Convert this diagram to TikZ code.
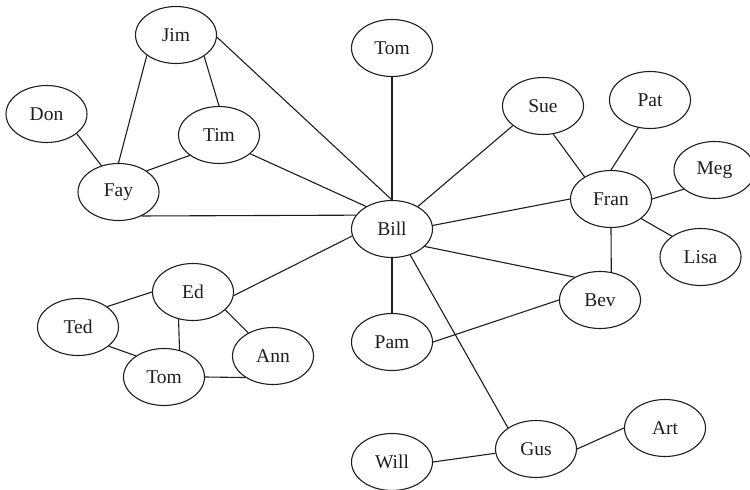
\documentclass[tikz,border=0pt]{standalone}
\usepackage{fontspec}
\setmainfont{Liberation Serif}
\usetikzlibrary{shapes.geometric}
\definecolor{ink}{RGB}{30,30,30}
\tikzset{
  person/.style={ellipse, draw=ink, line width=1.1pt, minimum width=81pt,
    minimum height=57pt, inner sep=0pt, text=ink,
    font=\fontsize{19.5}{22}\selectfont},
  tie/.style={draw=ink, line width=1.1pt}
}
\begin{document}
\begin{tikzpicture}[x=1pt, y=-1pt]
  \useasboundingbox (0,0) rectangle (750,490);
  \fill[white] (0,0) rectangle (750,490);
  \clip (0,0) rectangle (750,490);

  % people
  \node[person] (jim)  at (176,35)    {Jim};
  \node[person] (tomA) at (392,48)    {Tom};
  \node[person] (don)  at (46.5,114)  {Don};
  \node[person] (tim)  at (219,135)   {Tim};
  \node[person] (sue)  at (543,106)   {Sue};
  \node[person] (pat)  at (650,100)   {Pat};
  \node[person] (meg)  at (714.5,170) {Meg};
  \node[person] (fay)  at (118.5,192) {Fay};
  \node[person] (fran) at (611,199)   {Fran};
  \node[person] (bill) at (392,229)   {Bill};
  \node[person] (lisa) at (700.5,257) {Lisa};
  \node[person] (ed)   at (193,292)   {Ed};
  \node[person] (bev)  at (600,300)   {Bev};
  \node[person] (ted)  at (78,327)    {Ted};
  \node[person] (ann)  at (273,356)   {Ann};
  \node[person] (pam)  at (392,342)   {Pam};
  \node[person] (tomB) at (164,377)   {Tom};
  \node[person] (art)  at (665,428)   {Art};
  \node[person] (gus)  at (536,449)   {Gus};
  \node[person] (will) at (392,462)   {Will};

  % acquaintances
  \draw[tie] (jim.215)  -- (fay.90);
  \draw[tie] (jim.-37)  -- (tim.90);
  \draw[tie] (jim.-3)   -- (bill.90);
  \draw[tie] (don.-33)  -- (fay.123);
  \draw[tie] (tim.215)  -- (fay.37);
  \draw[tie] (tim.-31)  -- (bill.139);
  \draw[tie] (fay.-46)  -- (bill.159);
  \draw[tie] (tomA.-90) -- (bill.90);
  \draw[tie] (sue.213)  -- (bill.41);
  \draw[tie] (sue.-70)  -- (fran.140);
  \draw[tie] (pat.-113) -- (fran.90);
  \draw[tie] (meg.212)  -- (fran.0);
  \draw[tie] (fran.180) -- (bill.5);
  \draw[tie] (fran.-33) -- (lisa.144);
  \draw[tie] (fran.-90) -- (bev.68);
  \draw[tie] (bill.-28) -- (bev.138);
  \draw[tie] (bill.-90) -- (pam.90);
  \draw[tie] (bill.-55) -- (gus.143);
  \draw[tie] (bill.190) -- (ed.-5);
  \draw[tie] (pam.0)    -- (bev.180);
  \draw[tie] (will.0)   -- (gus.186);
  \draw[tie] (gus.0)    -- (art.180);
  \draw[tie] (ted.35)   -- (ed.180);
  \draw[tie] (ted.-32)  -- (tomB.143);
  \draw[tie] (ed.242)   -- (tomB.60);
  \draw[tie] (ed.-29)   -- (ann.137);
  \draw[tie] (tomB.0)   -- (ann.218);
\end{tikzpicture}
\end{document}
